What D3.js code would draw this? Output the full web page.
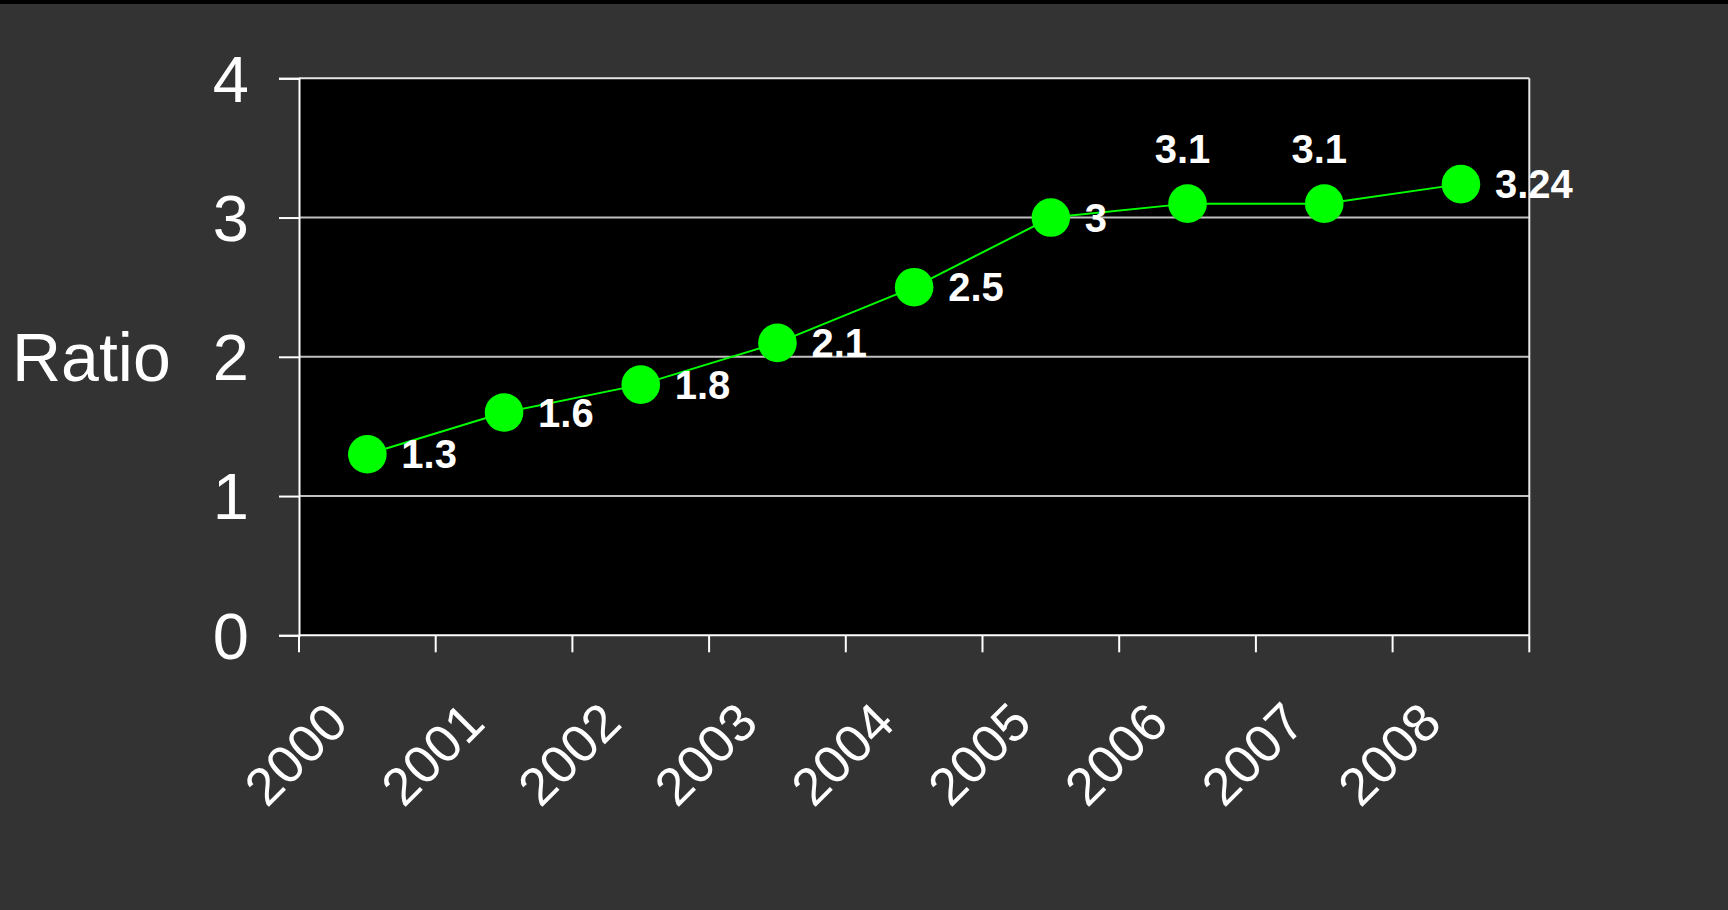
<!DOCTYPE html>
<html>
<head>
<meta charset="utf-8">
<script src="https://cdn.jsdelivr.net/npm/d3@7"></script>
<style>
  html, body { margin: 0; padding: 0; background: #333333; overflow: hidden; }
  svg { display: block; }
</style>
</head>
<body>
<svg id="chart" width="1728" height="910"></svg>
<script>
// ---- data ----
const years = ["2000", "2001", "2002", "2003", "2004", "2005", "2006", "2007", "2008"];
const ratios = [1.3, 1.6, 1.8, 2.1, 2.5, 3, 3.1, 3.1, 3.24];
const valueLabels = ["1.3", "1.6", "1.8", "2.1", "2.5", "3", "3.1", "3.1", "3.24"];
const labelPlacement = ["right", "right", "right", "right", "right", "right", "above", "above", "right"];
const yTicks = [0, 1, 2, 3, 4];
const yTitle = "Ratio";

// ---- layout ----
const W = 1728, H = 910;
const plot = { left: 299, right: 1529.3, top: 78.3, bottom: 635.3 };
const font = "Arial, 'Liberation Sans', Helvetica, sans-serif";

const svg = d3.select("#chart");

svg.append("rect").attr("x", 0).attr("y", 0).attr("width", W).attr("height", H).attr("fill", "#333333");
svg.append("rect").attr("x", 0).attr("y", 0).attr("width", W).attr("height", 4).attr("fill", "#000000");

const x = d3.scaleBand().domain(years).range([plot.left, plot.right]).paddingInner(0).paddingOuter(0);
const y = d3.scaleLinear().domain([0, 4]).range([plot.bottom, plot.top]);

// plot area
svg.append("rect")
  .attr("x", plot.left).attr("y", plot.top)
  .attr("width", plot.right - plot.left).attr("height", plot.bottom - plot.top)
  .attr("fill", "#000000");

// gridlines
svg.append("g").selectAll("line")
  .data(yTicks.filter(d => d > 0 && d < 4))
  .join("line")
  .attr("x1", plot.left).attr("x2", plot.right)
  .attr("y1", d => y(d)).attr("y2", d => y(d))
  .attr("stroke", "#c0c0c0").attr("stroke-width", 2);

// frame top & right
svg.append("line").attr("x1", plot.left).attr("x2", plot.right)
  .attr("y1", plot.top).attr("y2", plot.top).attr("stroke", "#e6e6e6").attr("stroke-width", 2);
svg.append("line").attr("x1", plot.right).attr("x2", plot.right)
  .attr("y1", plot.top).attr("y2", plot.bottom).attr("stroke", "#e6e6e6").attr("stroke-width", 2);

// y axis
const yAxis = d3.axisLeft(y).tickValues(yTicks).tickSize(20).tickPadding(30).tickFormat(d3.format("d"));
const gy = svg.append("g").attr("transform", `translate(${plot.left},0)`).call(yAxis);
gy.select(".domain").attr("stroke", "#ffffff").attr("stroke-width", 2);
gy.selectAll(".tick line").attr("stroke", "#ffffff").attr("stroke-width", 2);
gy.selectAll(".tick text")
  .attr("fill", "#ffffff").attr("font-family", font).attr("font-size", 65)
  .attr("dy", "0.35em");

// x axis (ticks at band boundaries)
const boundaries = years.map(d => x(d)).concat([x(years[years.length - 1]) + x.bandwidth()]);
const gx = svg.append("g");
gx.append("line").attr("x1", plot.left).attr("x2", plot.right)
  .attr("y1", plot.bottom).attr("y2", plot.bottom).attr("stroke", "#ffffff").attr("stroke-width", 2);
gx.selectAll("line.tk").data(boundaries).join("line").attr("class", "tk")
  .attr("x1", d => d).attr("x2", d => d)
  .attr("y1", plot.bottom).attr("y2", plot.bottom + 17)
  .attr("stroke", "#ffffff").attr("stroke-width", 2);
gx.selectAll("text").data(years).join("text")
  .attr("transform", d => `translate(${x(d) + x.bandwidth() / 2 - 17},${plot.bottom + 90}) rotate(-45)`)
  .attr("text-anchor", "end")
  .attr("fill", "#ffffff").attr("font-family", font).attr("font-size", 53)
  .text(d => d);

// y title
svg.append("text")
  .attr("x", 12).attr("y", y(2)).attr("dy", "0.35em")
  .attr("fill", "#ffffff").attr("font-family", font).attr("font-size", 68)
  .text(yTitle);

// line
const pts = years.map((d, i) => ({ year: d, v: ratios[i], label: valueLabels[i], place: labelPlacement[i] }));
const line = d3.line().x(d => x(d.year) + x.bandwidth() / 2).y(d => y(d.v));
svg.append("path").datum(pts).attr("d", line)
  .attr("fill", "none").attr("stroke", "#00ff00").attr("stroke-width", 2);

// markers
svg.append("g").selectAll("circle").data(pts).join("circle")
  .attr("cx", d => x(d.year) + x.bandwidth() / 2)
  .attr("cy", d => y(d.v))
  .attr("r", 19.3)
  .attr("fill", "#00ff00");

// value labels
svg.append("g").selectAll("text").data(pts).join("text")
  .attr("x", d => x(d.year) + x.bandwidth() / 2 + (d.place === "right" ? 34 : -5))
  .attr("y", d => y(d.v) + (d.place === "right" ? 0 : -41))
  .attr("dy", d => d.place === "right" ? "0.35em" : "0")
  .attr("text-anchor", d => d.place === "right" ? "start" : "middle")
  .attr("fill", "#ffffff").attr("font-family", font).attr("font-size", 40).attr("font-weight", "bold")
  .text(d => d.label);
</script>
</body>
</html>
